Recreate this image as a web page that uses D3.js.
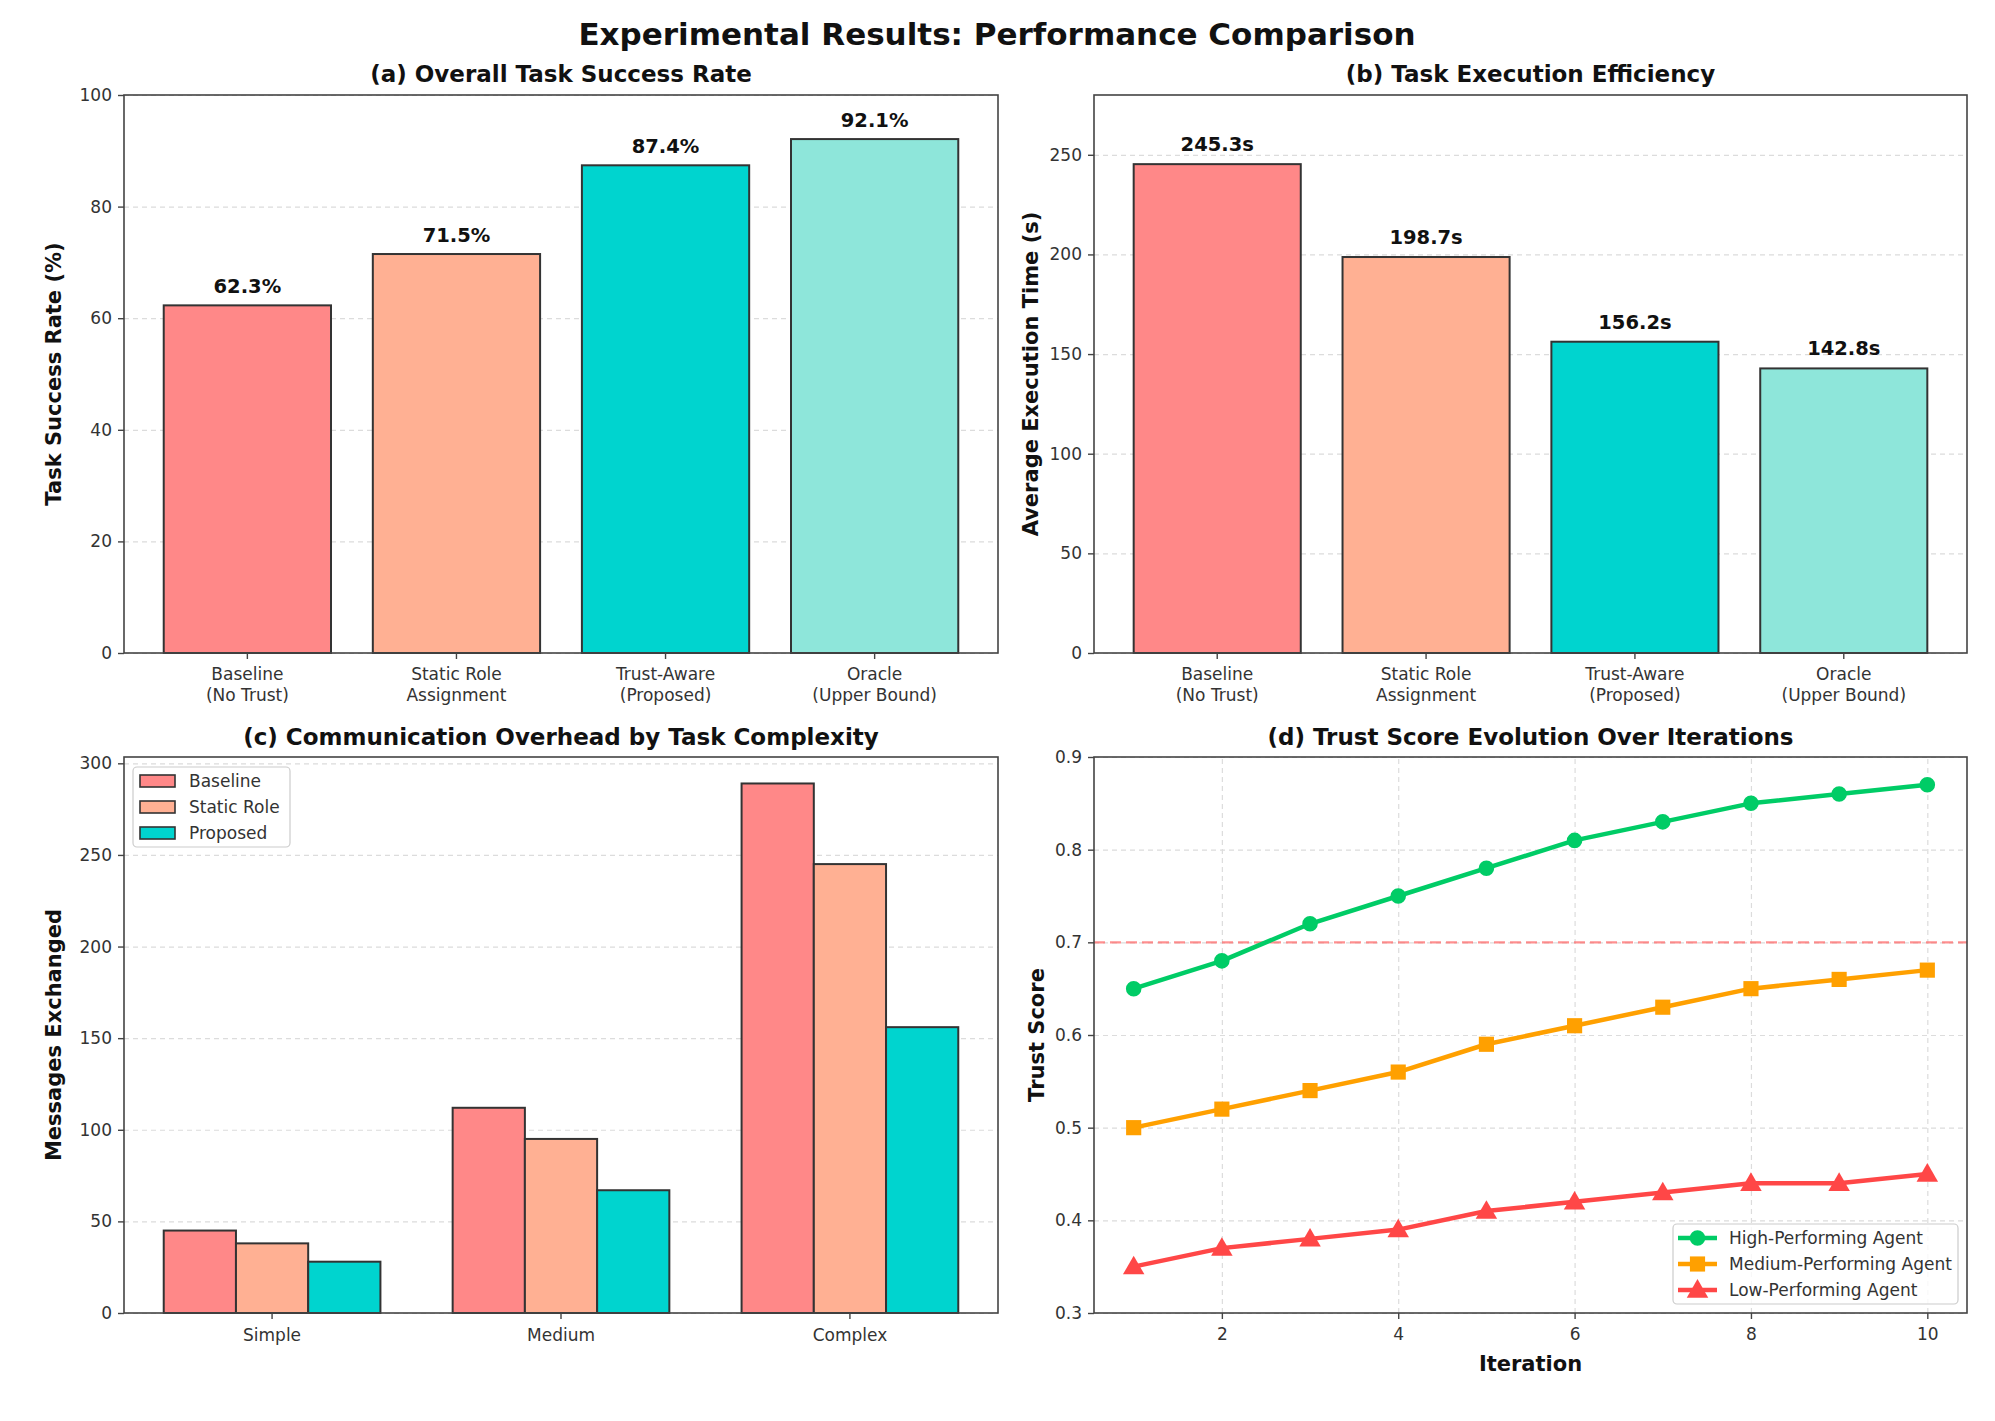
<!DOCTYPE html>
<html><head><meta charset="utf-8">
<script src="https://cdn.jsdelivr.net/npm/d3@7"></script>
<style>
body{margin:0;background:#fff;}
svg{display:block;font-family:"DejaVu Sans",sans-serif;}
</style></head>
<body>
<svg id="chart" width="1995" height="1421"></svg>
<script>
// ---------- DATA ----------
const methods = ["Baseline\n(No Trust)", "Static Role\nAssignment", "Trust-Aware\n(Proposed)", "Oracle\n(Upper Bound)"];
const successRate = [62.3, 71.5, 87.4, 92.1];
const execTime = [245.3, 198.7, 156.2, 142.8];
const complexity = ["Simple", "Medium", "Complex"];
const commSeries = ["Baseline", "Static Role", "Proposed"];
const commBaseline = [45, 112, 289];
const commStatic = [38, 95, 245];
const commProposed = [28, 67, 156];
const iterations = [1, 2, 3, 4, 5, 6, 7, 8, 9, 10];
const trustHigh = [0.65, 0.68, 0.72, 0.75, 0.78, 0.81, 0.83, 0.85, 0.86, 0.87];
const trustMedium = [0.50, 0.52, 0.54, 0.56, 0.59, 0.61, 0.63, 0.65, 0.66, 0.67];
const trustLow = [0.35, 0.37, 0.38, 0.39, 0.41, 0.42, 0.43, 0.44, 0.44, 0.45];
const trustSeries = ["High-Performing Agent", "Medium-Performing Agent", "Low-Performing Agent"];
const threshold = 0.7;
const ticksA = [0, 20, 40, 60, 80, 100];
const ticksB = [0, 50, 100, 150, 200, 250];
const ticksC = [0, 50, 100, 150, 200, 250, 300];
const ticksDy = [0.3, 0.4, 0.5, 0.6, 0.7, 0.8, 0.9];
const ticksDx = [2, 4, 6, 8, 10];

// ---------- STYLE ----------
const barColors = ["#FF8888", "#FFB093", "#00D4CF", "#8EE6DA"];
const lineColors = ["#00CC66", "#FFA000", "#FF4747"];
const TICK_FS = 17, LABEL_FS = 21, TITLE_FS = 23, SUP_FS = 31, VAL_FS = 19.5, LEG_FS = 17;
const svg = d3.select("#chart");

const P = {
  a: {x0: 124, x1: 998, y0: 95, y1: 653},
  b: {x0: 1094, x1: 1967, y0: 95, y1: 653},
  c: {x0: 124, x1: 998, y0: 757, y1: 1313},
  d: {x0: 1094, x1: 1967, y0: 757, y1: 1313}
};

svg.append("text").attr("x", 997).attr("y", 45).attr("text-anchor", "middle")
  .attr("font-size", SUP_FS).attr("font-weight", "bold").attr("fill", "#111")
  .text("Experimental Results: Performance Comparison");

function title(p, t, yb) {
  svg.append("text").attr("x", (p.x0 + p.x1) / 2).attr("y", yb).attr("text-anchor", "middle")
    .attr("font-size", TITLE_FS).attr("font-weight", "bold").attr("fill", "#111").text(t);
}
function ylabel(p, t, x) {
  svg.append("text").attr("transform", `translate(${x},${(p.y0 + p.y1) / 2}) rotate(-90)`)
    .attr("text-anchor", "middle").attr("dominant-baseline", "central")
    .attr("font-size", LABEL_FS).attr("font-weight", "bold").attr("fill", "#111").text(t);
}
function yAxis(p, y, ticks, fmt, grid) {
  if (grid) {
    svg.append("g").attr("transform", `translate(${p.x0},0)`)
      .call(d3.axisLeft(y).tickValues(ticks).tickSize(-(p.x1 - p.x0)).tickFormat(""))
      .call(s => s.select(".domain").remove())
      .call(s => s.selectAll("line").attr("stroke", "#dcdcdc").attr("stroke-dasharray", "5,4").attr("stroke-width", 1.2));
  }
  svg.append("g").attr("transform", `translate(${p.x0},0)`)
    .call(d3.axisLeft(y).tickValues(ticks).tickSize(6).tickPadding(6).tickFormat(fmt))
    .call(s => s.select(".domain").remove())
    .call(s => s.selectAll("line").attr("stroke", "#444").attr("stroke-width", 1.4))
    .call(s => s.selectAll("text").attr("font-size", TICK_FS).attr("fill", "#333").attr("font-family", "DejaVu Sans"));
}
function frame(p) {
  svg.append("rect").attr("x", p.x0).attr("y", p.y0).attr("width", p.x1 - p.x0).attr("height", p.y1 - p.y0)
    .attr("fill", "none").attr("stroke", "#444").attr("stroke-width", 1.6);
}

// ---------- (a) & (b) ----------
function barPanel(p, vals, ymax, ticks, fmtVal, ttl, ylab, ylabX, valOff) {
  const x = d3.scaleLinear().domain([-0.59, 3.59]).range([p.x0, p.x1]);
  const y = d3.scaleLinear().domain([0, ymax]).range([p.y1, p.y0]);
  yAxis(p, y, ticks, d3.format("d"), true);
  svg.append("g").selectAll("rect").data(vals).join("rect")
    .attr("x", (d, i) => x(i - 0.4)).attr("width", x(0.8) - x(0))
    .attr("y", d => y(d)).attr("height", d => y(0) - y(d))
    .attr("fill", (d, i) => barColors[i]).attr("stroke", "#333").attr("stroke-width", 2);
  svg.append("g").selectAll("text").data(vals).join("text")
    .attr("x", (d, i) => x(i)).attr("y", d => y(d) - valOff).attr("text-anchor", "middle")
    .attr("font-size", VAL_FS).attr("font-weight", "bold").attr("fill", "#111").text(fmtVal);
  const xt = svg.append("g");
  methods.forEach((m, i) => {
    xt.append("line").attr("x1", x(i)).attr("x2", x(i)).attr("y1", p.y1).attr("y2", p.y1 + 6).attr("stroke", "#444").attr("stroke-width", 1.4);
    const t = xt.append("text").attr("x", x(i)).attr("text-anchor", "middle").attr("font-size", TICK_FS).attr("fill", "#333");
    m.split("\n").forEach((ln, k) => t.append("tspan").attr("x", x(i)).attr("y", p.y1 + 27 + k * 21).text(ln));
  });
  frame(p);
  title(p, ttl, 82);
  ylabel(p, ylab, ylabX);
}
barPanel(P.a, successRate, 100, ticksA, d => d.toFixed(1) + "%", "(a) Overall Task Success Rate", "Task Success Rate (%)", 54, 12);
barPanel(P.b, execTime, 280, ticksB, d => d.toFixed(1) + "s", "(b) Task Execution Efficiency", "Average Execution Time (s)", 1031, 13);

// ---------- (c) ----------
(function () {
  const p = P.c;
  const series = [commBaseline, commStatic, commProposed];
  const bw = 0.25;
  const x = d3.scaleLinear().domain([-0.5125, 2.5125]).range([p.x0, p.x1]);
  const y = d3.scaleLinear().domain([0, d3.max(commBaseline) * 1.05]).range([p.y1, p.y0]);
  yAxis(p, y, ticksC, d3.format("d"), true);
  series.forEach((vals, j) => {
    svg.append("g").selectAll("rect").data(vals).join("rect")
      .attr("x", (d, i) => x(i + (j - 1) * bw - bw / 2)).attr("width", x(bw) - x(0))
      .attr("y", d => y(d)).attr("height", d => y(0) - y(d))
      .attr("fill", barColors[j]).attr("stroke", "#333").attr("stroke-width", 2);
  });
  complexity.forEach((c, i) => {
    svg.append("line").attr("x1", x(i)).attr("x2", x(i)).attr("y1", p.y1).attr("y2", p.y1 + 6).attr("stroke", "#444").attr("stroke-width", 1.4);
    svg.append("text").attr("x", x(i)).attr("y", p.y1 + 28).attr("text-anchor", "middle").attr("font-size", TICK_FS).attr("fill", "#333").text(c);
  });
  frame(p);
  title(p, "(c) Communication Overhead by Task Complexity", 745);
  ylabel(p, "Messages Exchanged", 54);
  // legend
  const lg = svg.append("g");
  lg.append("rect").attr("x", p.x0 + 9).attr("y", p.y0 + 10).attr("width", 157).attr("height", 80).attr("rx", 4)
    .attr("fill", "#fff").attr("fill-opacity", 0.8).attr("stroke", "#ccc").attr("stroke-width", 1.2);
  commSeries.forEach((s, j) => {
    const cy = p.y0 + 24 + j * 26;
    lg.append("rect").attr("x", p.x0 + 16).attr("y", cy - 6).attr("width", 35).attr("height", 12)
      .attr("fill", barColors[j]).attr("stroke", "#333").attr("stroke-width", 1.6);
    lg.append("text").attr("x", p.x0 + 65).attr("y", cy).attr("dominant-baseline", "central")
      .attr("font-size", LEG_FS).attr("fill", "#333").text(s);
  });
})();

// ---------- (d) ----------
(function () {
  const p = P.d;
  const x = d3.scaleLinear().domain([0.55, 10.45]).range([p.x0, p.x1]);
  const y = d3.scaleLinear().domain([0.3, 0.9]).range([p.y1, p.y0]);
  svg.append("g").attr("transform", `translate(0,${p.y1})`)
    .call(d3.axisBottom(x).tickValues(ticksDx).tickSize(-(p.y1 - p.y0)).tickFormat(""))
    .call(s => s.select(".domain").remove())
    .call(s => s.selectAll("line").attr("stroke", "#dcdcdc").attr("stroke-dasharray", "5,4").attr("stroke-width", 1.2));
  yAxis(p, y, ticksDy, d3.format(".1f"), true);
  svg.append("g").attr("transform", `translate(0,${p.y1})`)
    .call(d3.axisBottom(x).tickValues(ticksDx).tickSize(6).tickPadding(9).tickFormat(d3.format("d")))
    .call(s => s.select(".domain").remove())
    .call(s => s.selectAll("line").attr("stroke", "#444").attr("stroke-width", 1.4))
    .call(s => s.selectAll("text").attr("font-size", TICK_FS).attr("fill", "#333").attr("font-family", "DejaVu Sans"));
  svg.append("line").attr("x1", p.x0).attr("x2", p.x1).attr("y1", y(threshold)).attr("y2", y(threshold))
    .attr("stroke", "#FF6B6B").attr("stroke-opacity", 0.75).attr("stroke-width", 2.4).attr("stroke-dasharray", "11,5");
  const data = [trustHigh, trustMedium, trustLow];
  const syms = [d3.symbolCircle, d3.symbolSquare, d3.symbolTriangle];
  const symSize = [190, 230, 200];
  const line = d3.line().x((d, i) => x(iterations[i])).y(d => y(d));
  data.forEach((vals, j) => {
    svg.append("path").datum(vals).attr("d", line).attr("fill", "none")
      .attr("stroke", lineColors[j]).attr("stroke-width", 4.5).attr("stroke-linejoin", "round");
    svg.append("g").selectAll("path").data(vals).join("path")
      .attr("transform", (d, i) => `translate(${x(iterations[i])},${y(d) + (j === 2 ? 1.5 : 0)})`)
      .attr("d", d3.symbol().type(syms[j]).size(symSize[j])).attr("fill", lineColors[j]);
  });
  frame(p);
  title(p, "(d) Trust Score Evolution Over Iterations", 745);
  ylabel(p, "Trust Score", 1037);
  svg.append("text").attr("x", (p.x0 + p.x1) / 2).attr("y", p.y1 + 58).attr("text-anchor", "middle")
    .attr("font-size", LABEL_FS).attr("font-weight", "bold").attr("fill", "#111").text("Iteration");
  // legend
  const lg = svg.append("g");
  const lx = 1673, ly = 1224;
  lg.append("rect").attr("x", lx).attr("y", ly).attr("width", 285).attr("height", 80).attr("rx", 4)
    .attr("fill", "#fff").attr("fill-opacity", 0.8).attr("stroke", "#ccc").attr("stroke-width", 1.2);
  trustSeries.forEach((s, j) => {
    const cy = ly + 14 + j * 26;
    lg.append("line").attr("x1", lx + 5).attr("x2", lx + 44).attr("y1", cy).attr("y2", cy)
      .attr("stroke", lineColors[j]).attr("stroke-width", 4.5);
    lg.append("path").attr("transform", `translate(${lx + 24.5},${cy + (j === 2 ? 1.5 : 0)})`)
      .attr("d", d3.symbol().type(syms[j]).size(symSize[j])).attr("fill", lineColors[j]);
    lg.append("text").attr("x", lx + 56).attr("y", cy).attr("dominant-baseline", "central")
      .attr("font-size", LEG_FS).attr("fill", "#333").text(s);
  });
})();
</script>
</body></html>
